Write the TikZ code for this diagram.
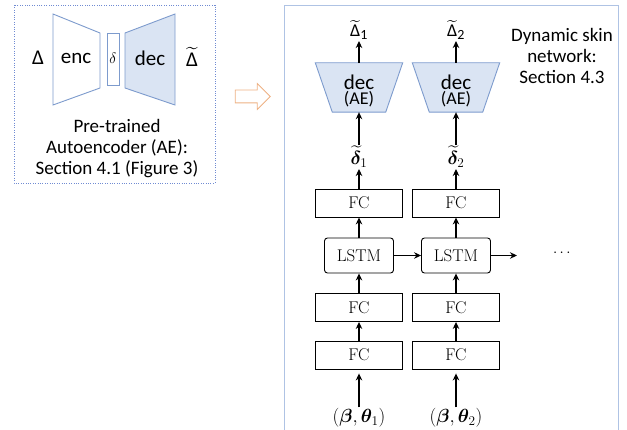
\RequirePackage{fix-cm}
\documentclass[tikz,border=0pt]{standalone}
\usepackage{amsmath,amssymb}
\usepackage{bm}
\usepackage{fontspec}
\usepackage{tikz}
\usetikzlibrary{shapes,arrows.meta,positioning,calc,backgrounds}
\newfontfamily\calib{Carlito}
\definecolor{aeblue}{RGB}{125,155,205}
\definecolor{aefill}{RGB}{218,228,243}
\definecolor{panelblue}{RGB}{175,195,228}
\definecolor{hintorange}{RGB}{238,178,132}
\newcommand{\tDelta}[1]{$\widetilde{\hbox{Δ}}_{\hbox{\fontsize{14}{15}\selectfont #1}}$}

\begin{document}
\begin{tikzpicture}[
			x=1pt, y=-1pt,
			fcbox/.style={rectangle, draw, line width=0.9pt, minimum width=87pt, minimum height=28pt, font=\fontsize{17}{19}\selectfont},
			lstmbox/.style={rectangle, draw, rounded corners=3pt, line width=0.9pt, minimum width=69pt, minimum height=35pt, font=\fontsize{17}{19}\selectfont},
			decoder/.style={rectangle, minimum width=87pt, minimum height=49pt, inner sep=0pt, align=center, font=\calib},
			aepart/.style={draw=aeblue, line width=0.9pt},
			sans/.style={font=\calib\fontsize{19}{21}\selectfont, align=center},
			mathlbl/.style={font=\fontsize{18}{20}\selectfont, inner sep=1pt},
			arrow/.style={-{Stealth[length=7pt,width=6.5pt]}, line width=1.2pt}
			]
			
			\useasboundingbox (0,0) rectangle (627,430);
			
			% Pre-trained autoencoder (left)
			\draw[aeblue!90!blue, line width=0.9pt, dash pattern=on 1pt off 1.4pt] (14,5) rectangle (215,183);
			\draw[aepart, fill=white] (53,14) -- (100,33) -- (100,88) -- (53,105) -- cycle;
			\draw[aepart, fill=white] (107,33) rectangle (119,85);
			\draw[aepart, fill=aefill] (125,33) -- (175,14) -- (175,105) -- (125,88) -- cycle;
			\node[sans, font=\calib\fontsize{21}{22}\selectfont] (aein) at (38,58) {Δ};
			\node[sans, font=\calib\fontsize{21}{22}\selectfont] (enc) at (76,58) {enc};
			\node[font=\fontsize{15}{16}\selectfont] (code) at (113,58) {$\delta$};
			\node[sans, font=\calib\fontsize{21}{22}\selectfont] (dec) at (150,58) {dec};
			\node[sans, font=\calib\fontsize{21}{22}\selectfont] (aeout) at (192,57) {$\widetilde{\hbox{Δ}}$};
			\node[sans] (aecap) at (117,149) {Pre-trained\\Autoencoder (AE):\\Section 4.1 (Figure 3)};
			
			% Hint arrow between the two panels
			\node[single arrow, draw=hintorange, line width=0.8pt, fill=white, minimum height=35pt, minimum width=25pt, inner sep=6pt, single arrow head extend=6.5pt] (hint) at (249.5,96.5) {};
			
			% Dynamic skin network (right)
			\draw[panelblue, line width=0.9pt] (284,432) -- (284,5) -- (618,5) -- (618,432);
			\node[sans] (title) at (562,56) {Dynamic skin\\network:\\Section 4.3};
			
			% Two unrolled time steps
			\foreach \i/\x in {1/359, 2/456} {
				\node[mathlbl, font=\calib\fontsize{18}{20}\selectfont] (out\i) at (\x,30) {\tDelta{\i}};
				\node[decoder] (dec\i) at (\x,87.5) {{\fontsize{21}{22}\selectfont\rule{0pt}{22pt}dec}\\[1pt]{\fontsize{18}{19}\selectfont (AE)}};
				\begin{scope}[on background layer]
					\draw[aepart, fill=aefill] (dec\i.north west) -- (dec\i.north east) -- ([xshift=-17pt]dec\i.south east) -- ([xshift=17pt]dec\i.south west) -- cycle;
				\end{scope}
				\node[mathlbl, font=\fontsize{19}{21}\selectfont] (lat\i) at (\x,157) {$\widetilde{\bm{\delta}}_{\i}$};
				\node[fcbox] (fcC\i) at (\x,203) {FC};
				\node[lstmbox] (lstm\i) at (\x,255.5) {LSTM};
				\node[fcbox] (fcB\i) at (\x,307.5) {FC};
				\node[fcbox] (fcA\i) at (\x,355) {FC};
				\node[mathlbl, font=\fontsize{19}{21}\selectfont] (in\i) at (\x,418) {$(\bm{\beta},\bm{\theta}_{\i})$};
				
				\draw[arrow] (in\i) -- ([yshift=-4pt]fcA\i.south);
				\draw[arrow] (fcA\i) -- (fcB\i);
				\draw[arrow] (fcB\i) -- (lstm\i);
				\draw[arrow] (lstm\i) -- (fcC\i);
				\draw[arrow] (fcC\i) -- (lat\i);
				\draw[arrow] (lat\i) -- (dec\i.south);
				\draw[arrow] (dec\i.north) -- (out\i);
			}
			
			% Recurrent connections
			\coordinate (next) at (517,255.5);
			\node[font=\fontsize{15}{16}\selectfont] (dots) at (563,253) {$\cdots$};
			\draw[arrow] (lstm1) -- (lstm2);
			\draw[arrow] (lstm2) -- (next);
			
		\end{tikzpicture}
\end{document}
